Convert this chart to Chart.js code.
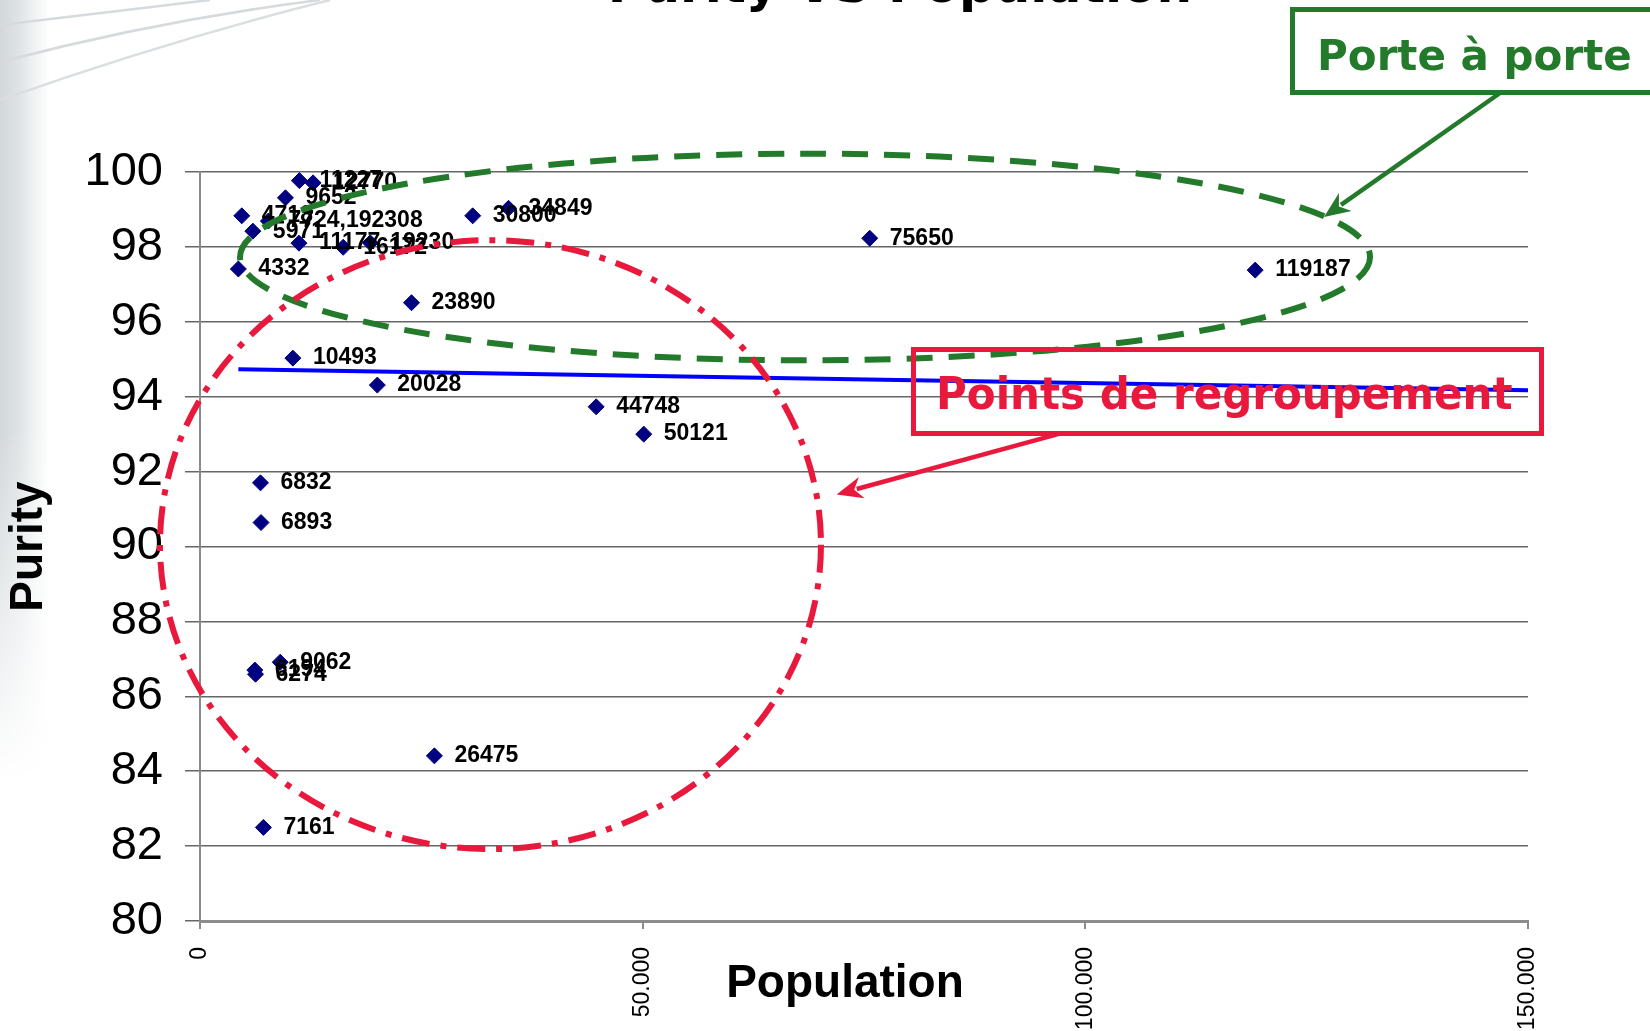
<!DOCTYPE html>
<html>
<head>
<meta charset="utf-8">
<title>Purity VS Population</title>
<script src="https://cdn.jsdelivr.net/npm/chart.js@4.4.1/dist/chart.umd.min.js"></script>
<style>
    html, body { margin: 0; padding: 0; background: #fff; overflow: hidden; }
    #page { position: relative; width: 1650px; height: 1031px; }
    #band {
        position: absolute; left: 0; top: 0; width: 50px; height: 780px;
        background: linear-gradient(to right, #d2d7da 0, #e0e4e6 20px, #eef0f1 32px, rgba(255,255,255,0) 50px);
        -webkit-mask-image: linear-gradient(to bottom, #000 55%, transparent);
        mask-image: linear-gradient(to bottom, #000 55%, transparent);
    }
    #deco { position: absolute; left: 0; top: 0; }
    #wrap { position: absolute; left: 0; top: 0; width: 1650px; height: 1031px; }
    .note {
        position: absolute; white-space: nowrap;
        font-family: "DejaVu Sans", Verdana, sans-serif; font-weight: bold;
    }
    .box { position: absolute; box-sizing: border-box; border: 5px solid; }
</style>
</head>
<body>
<div id="page">
    <div id="band"></div>
    <svg id="deco" width="360" height="110">
        <path d="M0 25 L210 0" stroke="#d6dadc" stroke-width="2.5" fill="none"/>
        <path d="M0 62 Q160 20 320 0" stroke="#d6dadc" stroke-width="2.5" fill="none"/>
        <path d="M0 100 Q170 40 330 0" stroke="#dadee0" stroke-width="2.5" fill="none"/>
    </svg>
    <div id="wrap"><canvas id="purityChart"></canvas></div>

    <div class="note" style="left:900px; top:-40px; font-size:50px; line-height:50px; transform:translateX(-50%); color:#000;">Purity VS Population</div>

    <div class="note" style="left:845px; top:958px; font-family:'Liberation Sans', Arial, sans-serif; font-size:46px; line-height:46px; transform:translateX(-50%); color:#000;">Population</div>

    <div class="box" style="left:1290px; top:7px; width:420px; height:88px; border-color:#237a2b;"></div>
    <div class="note" style="left:1317px; top:34.5px; font-size:42px; line-height:42px; color:#237a2b;">Porte à porte</div>

    <div class="box" style="left:911px; top:347px; width:633px; height:89px; border-color:#e8193c;"></div>
    <div class="note" style="left:936px; top:372px; font-size:44px; line-height:44px; color:#e8193c; transform-origin:0 0; transform:scaleX(0.955);">Points de regroupement</div>
</div>

<script>
// population (x), purity (y) and the label printed next to each point
const popLabels = ['4332', '4718', '5971', '7724,192308', '9652', '11227', '12770', '11177', '16172', '19230',
    '30800', '34849', '23890', '10493', '20028', '44748', '50121', '6832', '6893', '9062',
    '6194', '6274', '26475', '7161', '75650', '119187'];
const population = [4332, 4718, 5971, 7724.192308, 9652, 11227, 12770, 11177, 16172, 19230,
    30800, 34849, 23890, 10493, 20028, 44748, 50121, 6832, 6893, 9062,
    6194, 6274, 26475, 7161, 75650, 119187];
const purity = [97.41, 98.83, 98.42, 98.69, 99.31, 99.77, 99.71, 98.10, 97.99, 98.11,
    98.83, 99.03, 96.51, 95.03, 94.31, 93.73, 93.00, 91.70, 90.64, 86.91,
    86.70, 86.59, 84.41, 82.50, 98.23, 97.38];

// linear trend line, read at both ends
const trendX = [4332, 150000];
const trendY = [94.73, 94.17];

const xTickLabels = ['0', '50.000', '100.000', '150.000'];

const labelFont = '"Liberation Sans", Arial, sans-serif';

const pointLabels = {
    id: 'pointLabels',
    afterDatasetsDraw(chart) {
        const ctx = chart.ctx;
        const meta = chart.getDatasetMeta(0);
        ctx.save();
        ctx.font = 'bold 23px ' + labelFont;
        ctx.fillStyle = '#000';
        ctx.textBaseline = 'middle';
        meta.data.forEach(function (pt, i) {
            ctx.fillText(popLabels[i], pt.x + 20, pt.y);
        });
        ctx.restore();
    }
};

// hand drawn marks of the slide, placed in data units
const ellipses = [
    { x: 68340, y: 97.73, rx: 63820, ry: 2.76, color: '#237a2b', dash: [26, 16] },
    { x: 32810, y: 90.05, rx: 37330, ry: 8.13, color: '#e8193c', dash: [28, 11, 6, 11] }
];
const arrows = [
    { x1: 146840, y1: 102.11, x2: 126960, y2: 98.80, color: '#237a2b' },
    { x1: 96910, y1: 93.0, x2: 71910, y2: 91.39, color: '#e8193c' }
];

const slideMarks = {
    id: 'slideMarks',
    afterDraw(chart) {
        const ctx = chart.ctx;
        const xs = chart.scales.x, ys = chart.scales.y;
        ctx.save();
        ellipses.forEach(function (e) {
            const cx = xs.getPixelForValue(e.x), cy = ys.getPixelForValue(e.y);
            const rx = Math.abs(xs.getPixelForValue(e.x + e.rx) - cx);
            const ry = Math.abs(ys.getPixelForValue(e.y + e.ry) - cy);
            ctx.strokeStyle = e.color;
            ctx.lineWidth = 6;
            ctx.setLineDash(e.dash);
            ctx.beginPath();
            ctx.ellipse(cx, cy, rx, ry, 0, 0, Math.PI * 2);
            ctx.stroke();
        });
        ctx.setLineDash([]);
        arrows.forEach(function (a) {
            const x1 = xs.getPixelForValue(a.x1), y1 = ys.getPixelForValue(a.y1);
            const x2 = xs.getPixelForValue(a.x2), y2 = ys.getPixelForValue(a.y2);
            const ang = Math.atan2(y2 - y1, x2 - x1);
            const len = 26, half = 11;
            ctx.strokeStyle = a.color;
            ctx.fillStyle = a.color;
            ctx.lineWidth = 4.5;
            ctx.beginPath();
            ctx.moveTo(x1, y1);
            ctx.lineTo(x2 - Math.cos(ang) * len * 0.8, y2 - Math.sin(ang) * len * 0.8);
            ctx.stroke();
            ctx.beginPath();
            ctx.moveTo(x2, y2);
            ctx.lineTo(x2 - Math.cos(ang) * len - Math.sin(ang) * half, y2 - Math.sin(ang) * len + Math.cos(ang) * half);
            ctx.lineTo(x2 - Math.cos(ang) * len * 0.7, y2 - Math.sin(ang) * len * 0.7);
            ctx.lineTo(x2 - Math.cos(ang) * len + Math.sin(ang) * half, y2 - Math.sin(ang) * len - Math.cos(ang) * half);
            ctx.closePath();
            ctx.fill();
        });
        ctx.restore();
    }
};

document.addEventListener('DOMContentLoaded', function () {
    const ctx = document.getElementById('purityChart').getContext('2d');

    new Chart(ctx, {
        type: 'scatter',
        data: {
            datasets: [{
                data: population.map((p, i) => ({ x: p, y: purity[i] })),
                pointStyle: 'rectRot',
                pointRadius: 8,
                backgroundColor: '#000080',
                borderColor: '#000080',
                borderWidth: 1
            }, {
                data: trendX.map((p, i) => ({ x: p, y: trendY[i] })),
                showLine: true,
                borderColor: '#0000ff',
                borderWidth: 4,
                pointRadius: 0
            }]
        },
        options: {
            responsive: true,
            maintainAspectRatio: false,
            animation: false,
            layout: { padding: { top: 172, right: 122, left: 0, bottom: 0 } },
            plugins: {
                legend: { display: false },
                tooltip: { enabled: false }
            },
            scales: {
                x: {
                    type: 'linear',
                    min: 0,
                    max: 150000,
                    afterFit: function (scale) { scale.height = 110; },
                    ticks: {
                        stepSize: 50000,
                        maxRotation: 90,
                        minRotation: 90,
                        padding: 18,
                        color: '#000',
                        font: { family: labelFont, size: 23 },
                        callback: (v, i) => xTickLabels[i]
                    },
                    grid: { drawOnChartArea: false, tickLength: 8, color: '#8c8c8c', lineWidth: 2 },
                    border: { color: '#8c8c8c', width: 3 }
                },
                y: {
                    min: 80,
                    max: 100,
                    afterFit: function (scale) { scale.width = 200; },
                    ticks: {
                        stepSize: 2,
                        padding: 22,
                        color: '#000',
                        font: { family: labelFont, size: 47 }
                    },
                    grid: { color: '#666', lineWidth: 1.5, tickLength: 15 },
                    border: { color: '#8a8a8a', width: 2 },
                    title: {
                        display: true,
                        text: 'Purity',
                        color: '#000',
                        font: { family: labelFont, size: 46, weight: 'bold' },
                        padding: { top: 2, bottom: 0 }
                    }
                }
            }
        },
        plugins: [pointLabels, slideMarks]
    });
});
</script>
</body>
</html>
